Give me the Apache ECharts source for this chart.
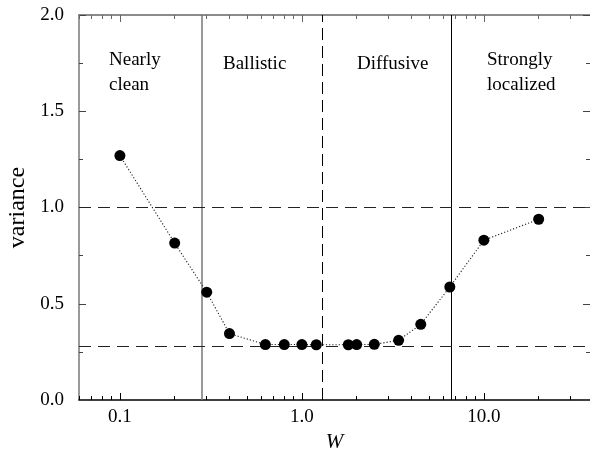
<!DOCTYPE html>
<html><head><meta charset="utf-8">
<script src="https://cdn.jsdelivr.net/npm/echarts@6/dist/echarts.min.js"></script>
<style>html,body{margin:0;padding:0;background:#fff}#c{width:590px;height:452px}</style>
</head><body><div id="c"></div>
<script>
// ---- data ----
const W = [0.1, 0.2, 0.3, 0.4, 0.63, 0.8, 1.0, 1.2, 1.8, 2.0, 2.5, 3.4, 4.5, 6.5, 10, 20];
const variance = [1.27, 0.815, 0.56, 0.345, 0.288, 0.288, 0.288, 0.287, 0.287, 0.288, 0.289, 0.31, 0.393, 0.587, 0.83, 0.939];
const xTickValues = [0.1, 1, 10];
const xTickLabels = ['0.1', '1.0', '10.0'];
const yTickValues = [0.0, 0.5, 1.0, 1.5, 2.0];
const yTickLabels = ['0.0', '0.5', '1.0', '1.5', '2.0'];
const regionBounds = [0.28, 1.28, 6.6];
const hLines = [1.0, 0.285];
const regionLabels = ['Nearly\nclean', 'Ballistic', 'Diffusive', 'Strongly\nlocalized'];
const xRange = [0.0596, 38.3];

const lg = v => Math.log10(v);
const xMin = lg(xRange[0]), xMax = lg(xRange[1]);
const majorLog = xTickValues.map(lg);
const minorLog = [];
for (let e = -2; e <= 1; e++) for (let k = 2; k <= 9; k++) {
  const v = k * Math.pow(10, e);
  if (v >= xRange[0] && v <= xRange[1]) minorLog.push(lg(v));
}
const serif = 'Liberation Serif';
const pts = W.map((w, i) => [lg(w), variance[i]]);

function xAx(pos, ticks, len, labels, lineColor, showLine) {
  return {
    type: 'value', position: pos, min: xMin, max: xMax,
    axisLine: { show: showLine, onZero: false, lineStyle: { color: lineColor, width: 1.5 } },
    axisTick: { show: true, inside: true, length: len, customValues: ticks, lineStyle: { color: lineColor, width: 1 } },
    axisLabel: labels ? {
      show: true, customValues: majorLog, margin: 8, color: '#000',
      fontFamily: serif, fontSize: 19,
      formatter: v => xTickLabels[majorLog.findIndex(t => Math.abs(t - v) < 1e-6)]
    } : { show: false },
    splitLine: { show: false }
  };
}

const chart = echarts.init(document.getElementById('c'), null, { renderer: 'canvas' });
const regionX = [109, 223, 357, 487];
const regionY = [48, 52, 52, 48];
chart.setOption({
  animation: false,
  backgroundColor: '#fff',
  grid: { left: 79, right: 0, top: 15, bottom: 52, containLabel: false, outerBoundsMode: 'none' },
  xAxis: [
    Object.assign(xAx('bottom', majorLog, 7, true, '#000', true), {
      name: 'W', nameLocation: 'middle', nameGap: 30,
      nameTextStyle: { fontFamily: serif, fontStyle: 'italic', fontSize: 21, color: '#000' }
    }),
    xAx('bottom', minorLog, 4, false, '#000', false),
    xAx('top', majorLog, 7, false, '#666', true),
    xAx('top', minorLog, 4, false, '#666', false)
  ],
  yAxis: [
    {
      type: 'value', position: 'left', min: 0, max: 2, interval: 0.5,
      name: 'variance', nameLocation: 'middle', nameGap: 47,
      nameTextStyle: { fontFamily: serif, fontSize: 24, color: '#000' },
      axisLine: { show: true, onZero: false, lineStyle: { color: '#777', width: 1.5 } },
      axisTick: { show: true, inside: true, length: 7, lineStyle: { color: '#444' } },
      minorTick: { show: true, splitNumber: 2, length: 4, lineStyle: { color: '#444' } },
      axisLabel: { margin: 15, color: '#000', fontFamily: serif, fontSize: 19,
        formatter: v => yTickLabels[yTickValues.findIndex(t => Math.abs(t - v) < 1e-6)] },
      splitLine: { show: false }
    },
    {
      type: 'value', position: 'right', min: 0, max: 2, interval: 0.5,
      axisLine: { show: false, onZero: false },
      axisTick: { show: true, inside: true, length: 7, lineStyle: { color: '#444' } },
      minorTick: { show: true, splitNumber: 2, length: 4, lineStyle: { color: '#444' } },
      axisLabel: { show: false }, splitLine: { show: false }
    }
  ],
  series: [
    {
      type: 'line', xAxisIndex: 0, yAxisIndex: 0, data: pts,
      symbol: 'circle', symbolSize: 11, showSymbol: true,
      itemStyle: { color: '#000' },
      lineStyle: { color: '#222', width: 1.1, type: [1.2, 2] },
      z: 5,
      markLine: {
        silent: true, symbol: 'none', animation: false, label: { show: false },
        data: [
          { xAxis: lg(regionBounds[0]), lineStyle: { color: '#777', width: 1.5, type: 'solid' } },
          { xAxis: lg(regionBounds[1]), lineStyle: { color: '#000', width: 1, type: [12, 6] } },
          { xAxis: lg(regionBounds[2]), lineStyle: { color: '#000', width: 1, type: 'solid' } },
          { yAxis: hLines[0], lineStyle: { color: '#222', width: 1, type: [12, 7] } },
          { yAxis: hLines[1], lineStyle: { color: '#222', width: 1, type: [12, 7] } }
        ]
      }
    }
  ],
  graphic: regionLabels.map((t, i) => ({
    type: 'text', left: regionX[i], top: regionY[i], silent: true,
    style: { text: t, fontFamily: serif, fontSize: 19, lineHeight: 25, fill: '#000', align: 'left' }
  }))
});
</script></body></html>
